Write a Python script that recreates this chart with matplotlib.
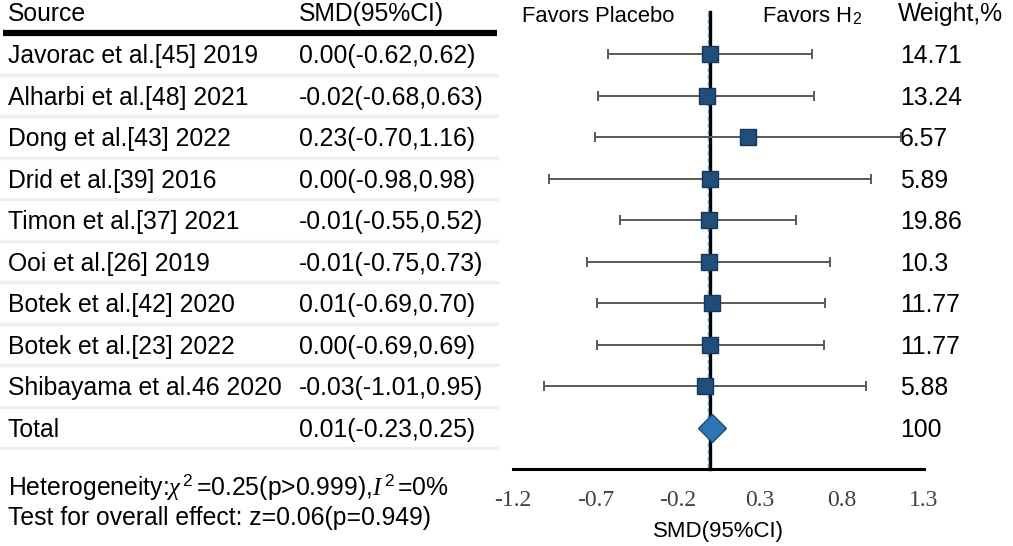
import matplotlib.pyplot as plt
import matplotlib.transforms as mtransforms

studies = ["Javorac et al.[45] 2019", "Alharbi et al.[48] 2021", "Dong et al.[43] 2022",
           "Drid et al.[39] 2016", "Timon et al.[37] 2021", "Ooi et al.[26] 2019",
           "Botek et al.[42] 2020", "Botek et al.[23] 2022", "Shibayama et al.46 2020"]
smd = [0.00, -0.02, 0.23, 0.00, -0.01, -0.01, 0.01, 0.00, -0.03]
ci_low = [-0.62, -0.68, -0.70, -0.98, -0.55, -0.75, -0.69, -0.69, -1.01]
ci_high = [0.62, 0.63, 1.16, 0.98, 0.52, 0.73, 0.70, 0.69, 0.95]
weights = ["14.71", "13.24", "6.57", "5.89", "19.86", "10.3", "11.77", "11.77", "5.88"]

total_smd, total_low, total_high, total_weight = 0.01, -0.23, 0.25, "100"
xticks = [-1.2, -0.7, -0.2, 0.3, 0.8, 1.3]

W, H = 1013, 546
FS = 17.8


def px(x):
    return x / W


def main():
    plt.rcParams['font.family'] = ['Liberation Sans', 'DejaVu Sans']
    plt.rcParams['mathtext.fontset'] = 'custom'
    plt.rcParams['mathtext.rm'] = 'Liberation Sans'
    plt.rcParams['mathtext.it'] = 'Liberation Serif:italic'

    fig = plt.figure(figsize=(W / 100, H / 100), dpi=100)
    ax = fig.add_axes([px(513), 0, px(924 - 513), 1])
    ax.set_xlim(-1.2, 1.3)
    # rows are 41.5 px apart, first row 54 px from the top
    ax.set_ylim((H - 54) / 41.5, -54 / 41.5)
    tr = mtransforms.blended_transform_factory(fig.transFigure, ax.transData)

    n = len(studies)
    rows = list(range(n))
    total_row = n

    # reference line (black) + dashed blue line next to it
    ax.plot([0, 0], [-1.01, total_row + 1], color='black', lw=2.4, zorder=2)
    shift = mtransforms.offset_copy(ax.transData, fig=fig, x=-2, y=0, units='dots')
    ax.plot([0, 0], [-1.01, total_row + 1], color='#5B9BD5', lw=1, ls=(0, (3, 2)),
            transform=shift, zorder=3)

    xerr = [[s - l for s, l in zip(smd, ci_low)], [h - s for s, h in zip(smd, ci_high)]]
    ax.errorbar(smd, rows, xerr=xerr, fmt='none', ecolor='#595959', elinewidth=1.4,
                capsize=3.6, capthick=1.4, zorder=4)
    ax.plot(smd, rows, 's', ms=11, mfc='#1F4E79', mec='#17375E', mew=1, zorder=5)
    ax.plot([total_smd], [total_row], 'D', ms=14.5, mfc='#2E75B6', mec='#1F4E79',
            mew=1, zorder=5)

    # axis
    for s in ['top', 'left', 'right']:
        ax.spines[s].set_visible(False)
    ax.spines['bottom'].set_position(('data', total_row + 1))
    ax.spines['bottom'].set_linewidth(2.2)
    ax.set_yticks([])
    ax.set_xticks(xticks)
    ax.set_xticklabels([f"{t:.1f}" for t in xticks], family='Liberation Serif', fontsize=17,
                       color='#404040')
    ax.tick_params(axis='x', length=0, pad=15)
    ax.set_xlabel("SMD(95%CI)", fontsize=16, labelpad=7)
    ax.patch.set_visible(False)

    # table
    ax.text(px(8), -0.96, "Source", transform=tr, fontsize=FS, va='center')
    ax.text(px(299), -0.96, "SMD(95%CI)", transform=tr, fontsize=FS, va='center')
    ax.plot([px(3), px(497)], [-0.5, -0.5], transform=tr, color='black', lw=4.5,
            clip_on=False, solid_capstyle='butt')
    ax.text(px(898), -0.96, "Weight,%", transform=tr, fontsize=FS, va='center')

    ax.text(px(598), -0.9, "Favors Placebo", transform=tr, fontsize=15.8, va='center',
            ha='center')
    fav = ax.text(px(763), -0.9, "Favors H", transform=tr, fontsize=15.8, va='center')
    ax.annotate("2", xy=(1, 0), xycoords=fav, xytext=(0.5, 0), textcoords='offset points',
                fontsize=11.5, va='bottom')

    labels = studies + ["Total"]
    ci_texts = [f"{s:.2f}({l:.2f},{h:.2f})" for s, l, h in zip(smd, ci_low, ci_high)]
    ci_texts.append(f"{total_smd:.2f}({total_low:.2f},{total_high:.2f})")
    wts = weights + [total_weight]
    for i in range(n + 1):
        y = i + 0.06
        ax.text(px(8), y, labels[i], transform=tr, fontsize=FS, va='center')
        ax.text(px(299), y, ci_texts[i], transform=tr, fontsize=FS, va='center')
        ax.text(px(900), y, wts[i], transform=tr, fontsize=FS, va='center')
        ax.plot([px(0), px(497)], [i + 0.5, i + 0.5], transform=tr, color='#EFEFEF',
                lw=2.5, clip_on=False)

    ax.text(px(8), 10.43,
            r"Heterogeneity:$\it{\chi}^{\,2}\,$=0.25(p>0.999),$\it{I}^{\,2}\,$=0%",
            transform=tr, fontsize=FS, va='center')
    ax.text(px(8), 11.18, "Test for overall effect: z=0.06(p=0.949)", transform=tr,
            fontsize=FS, va='center')

    fig.savefig("out.png", dpi=100)


main()
